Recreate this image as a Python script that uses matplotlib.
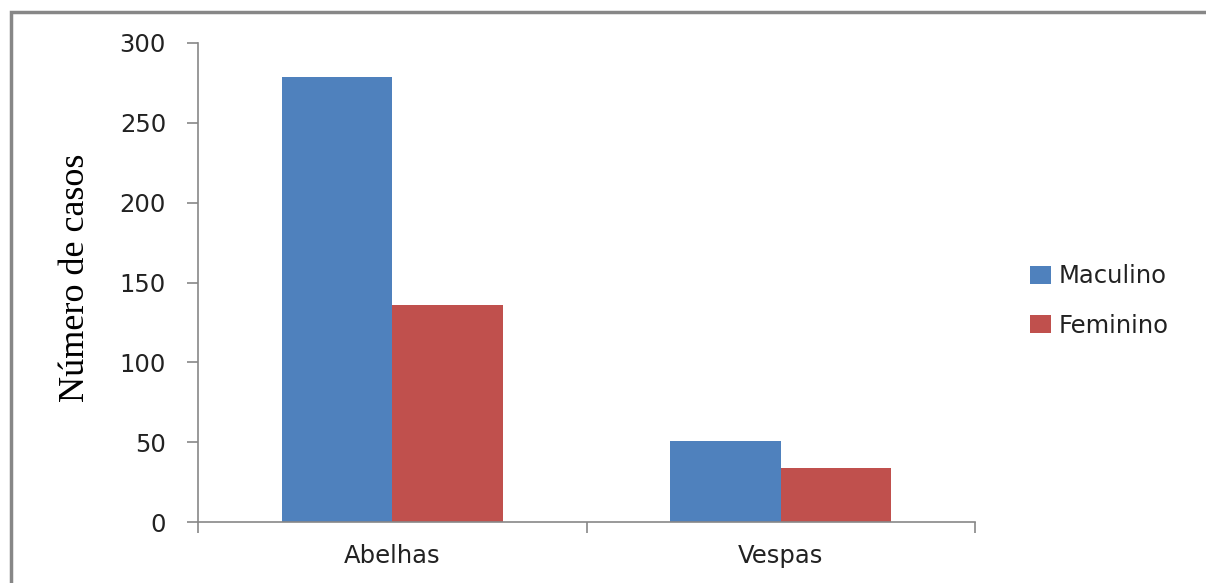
import matplotlib.pyplot as plt
from matplotlib.patches import Rectangle
import numpy as np

categories = ["Abelhas", "Vespas"]
maculino = [279, 51]
feminino = [136, 34]
yticks = [0, 50, 100, 150, 200, 250, 300]

W, H = 1206, 583
fig = plt.figure(figsize=(W / 100, H / 100), dpi=100)
ax = fig.add_axes([198 / W, 1 - 522 / H, (975 - 198) / W, (522 - 43) / H])

# outer chart frame, runs off the right and bottom edges
fig.patches.append(Rectangle((11 / W, -0.1), 1.2, 1 - 12 / H + 0.1,
                             transform=fig.transFigure, fill=False,
                             edgecolor="#878787", linewidth=2.5))

x = np.arange(len(categories))
bw = 0.285
ax.bar(x - bw / 2, maculino, bw, color="#4F81BD", label="Maculino")
ax.bar(x + bw / 2, feminino, bw, color="#C0504D", label="Feminino")

ax.set_xlim(-0.5, 1.5)
ax.set_ylim(0, 300)
ax.set_yticks(yticks)
ax.set_xticks(x)
ax.set_xticklabels(categories)
ax.set_xticks([-0.5, 0.5, 1.5], minor=True)
ax.tick_params(axis="x", which="major", length=0, pad=16)
ax.tick_params(axis="x", which="minor", length=8, color="#878787", width=1.2)
ax.tick_params(axis="y", length=8, color="#878787", width=1.2, pad=15)
for lbl in ax.get_xticklabels() + ax.get_yticklabels():
    lbl.set_fontfamily("DejaVu Sans")
    lbl.set_fontsize(17.5)
    lbl.set_color("#222222")

for s in ["top", "right"]:
    ax.spines[s].set_visible(False)
for s in ["left", "bottom"]:
    ax.spines[s].set_color("#878787")
    ax.spines[s].set_linewidth(1.2)

fig.text(75 / W, 1 - 278 / H, "Número de casos", rotation=90,
         ha="center", va="center", family="Liberation Serif", fontsize=26)

leg = fig.legend(loc="center left", bbox_to_anchor=(1008 / W, 1 - 301 / H),
                 frameon=False, prop={"family": "DejaVu Sans", "size": 17.5},
                 handlelength=0.85, handleheight=0.75, handletextpad=0.35,
                 labelspacing=1.05)
for t in leg.get_texts():
    t.set_color("#222222")

fig.savefig("out.png", dpi=100)
